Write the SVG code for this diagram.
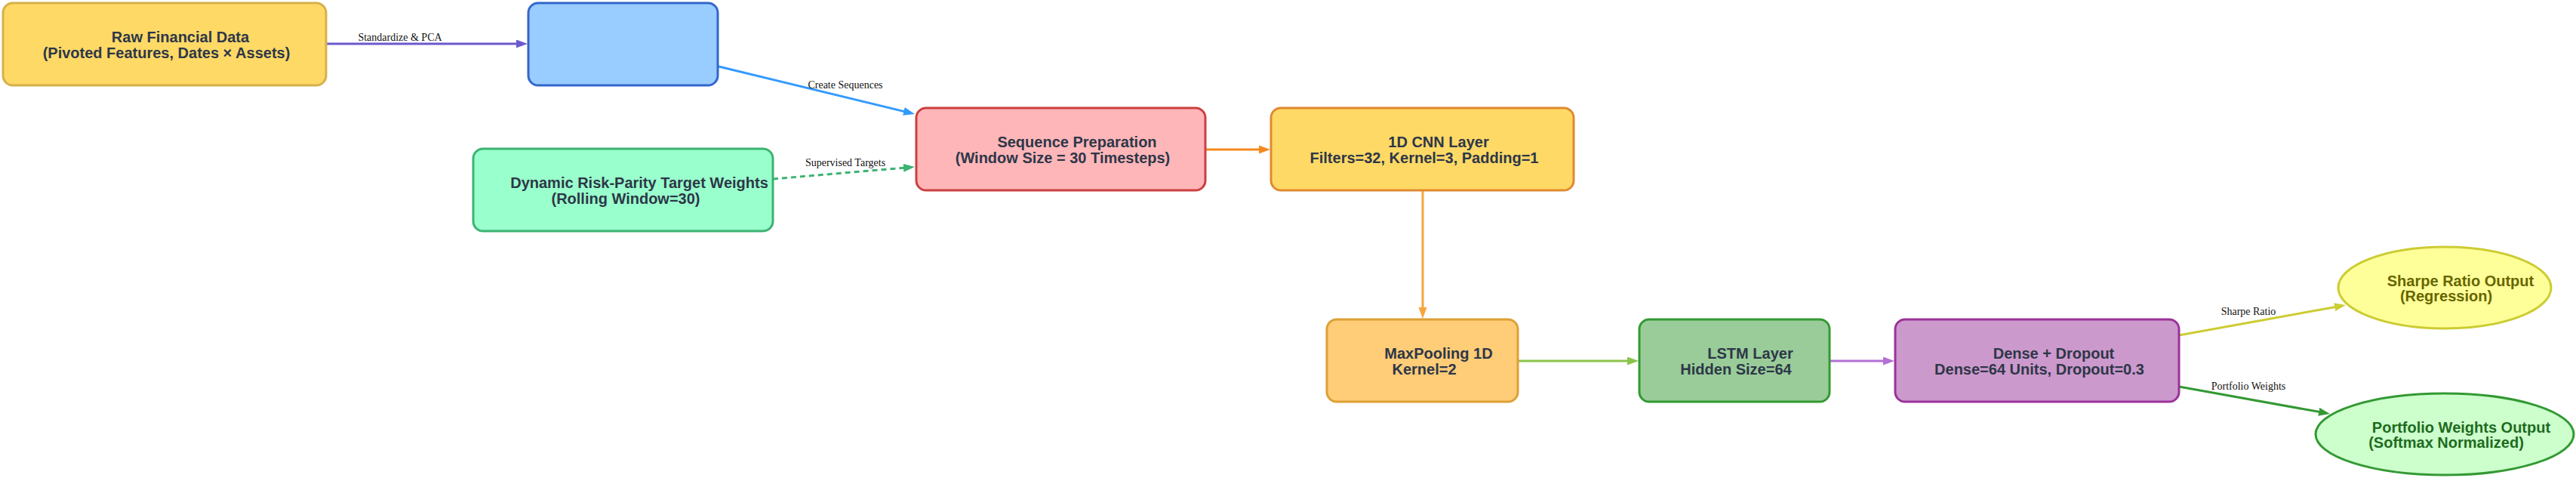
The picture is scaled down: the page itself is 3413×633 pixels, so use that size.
<svg xmlns="http://www.w3.org/2000/svg" width="3413" height="633" viewBox="0 0 3413 633">
<style>
.box{stroke-width:3}
.t{font-family:"Liberation Sans",Arial,sans-serif;font-weight:bold;font-size:20px;fill:#2d3748;text-anchor:middle}
.el{font-family:"Liberation Serif","Times New Roman",serif;font-size:14px;fill:#111;text-anchor:middle}
.e{fill:none;stroke-width:3}
</style>
<defs>
<marker id="m1" markerUnits="userSpaceOnUse" markerWidth="16" markerHeight="12" refX="7" refY="5.5" orient="auto"><path d="M0,0 L15,5.5 L0,11 z" fill="#6a5acd"/></marker>
<marker id="m2" markerUnits="userSpaceOnUse" markerWidth="16" markerHeight="12" refX="7" refY="5.5" orient="auto"><path d="M0,0 L15,5.5 L0,11 z" fill="#3399ff"/></marker>
<marker id="m3" markerUnits="userSpaceOnUse" markerWidth="16" markerHeight="12" refX="7" refY="5.5" orient="auto"><path d="M0,0 L15,5.5 L0,11 z" fill="#3cb371"/></marker>
<marker id="m4" markerUnits="userSpaceOnUse" markerWidth="16" markerHeight="12" refX="7" refY="5.5" orient="auto"><path d="M0,0 L15,5.5 L0,11 z" fill="#f5891f"/></marker>
<marker id="m5" markerUnits="userSpaceOnUse" markerWidth="16" markerHeight="12" refX="7" refY="5.5" orient="auto"><path d="M0,0 L15,5.5 L0,11 z" fill="#f7a53a"/></marker>
<marker id="m6" markerUnits="userSpaceOnUse" markerWidth="16" markerHeight="12" refX="7" refY="5.5" orient="auto"><path d="M0,0 L15,5.5 L0,11 z" fill="#8bc34a"/></marker>
<marker id="m7" markerUnits="userSpaceOnUse" markerWidth="16" markerHeight="12" refX="7" refY="5.5" orient="auto"><path d="M0,0 L15,5.5 L0,11 z" fill="#b36fd6"/></marker>
<marker id="m8" markerUnits="userSpaceOnUse" markerWidth="16" markerHeight="12" refX="7" refY="5.5" orient="auto"><path d="M0,0 L15,5.5 L0,11 z" fill="#cccc33"/></marker>
<marker id="m9" markerUnits="userSpaceOnUse" markerWidth="16" markerHeight="12" refX="7" refY="5.5" orient="auto"><path d="M0,0 L15,5.5 L0,11 z" fill="#339933"/></marker>
</defs>
<rect width="3413" height="633" fill="#ffffff"/>
<g id="connectors">
<path class="e" d="M432,58 L691,58" stroke="#6a5acd" marker-end="url(#m1)"/>
<path class="e" d="M952,88 L1204.2,149.1" stroke="#3399ff" marker-end="url(#m2)"/>
<path class="e" d="M1024,237 L1204,221.7" stroke="#3cb371" stroke-dasharray="7,5" marker-end="url(#m3)"/>
<path class="e" d="M1597,198 L1675,198" stroke="#f5891f" marker-end="url(#m4)"/>
<path class="e" d="M1885,252 L1885,414" stroke="#f7a53a" marker-end="url(#m5)"/>
<path class="e" d="M2011,478 L2163,478" stroke="#8bc34a" marker-end="url(#m6)"/>
<path class="e" d="M2424,478 L2502,478" stroke="#b36fd6" marker-end="url(#m7)"/>
<path class="e" d="M2887,444 L3100.1,405.4" stroke="#cccc33" marker-end="url(#m8)"/>
<path class="e" d="M2887,512 L3079.1,546.6" stroke="#339933" marker-end="url(#m9)"/>
<text class="el" x="530" y="54">Standardize &amp; PCA</text>
<text class="el" x="1120" y="117">Create Sequences</text>
<text class="el" x="1120" y="220">Supervised Targets</text>
<text class="el" x="2979" y="417">Sharpe Ratio</text>
<text class="el" x="2979" y="516">Portfolio Weights</text>
</g>
<g id="raw">
<rect class="box" x="4" y="4" width="428" height="109" rx="13" fill="#ffd966" stroke="#d6b04a"/>
<text class="t" x="239" y="56">Raw Financial Data</text>
<text class="t" x="220.5" y="77">(Pivoted Features, Dates × Assets)</text>
</g>
<g id="preprocess">
<rect class="box" x="700" y="4" width="251" height="109" rx="13" fill="#99ccff" stroke="#3366cc"/>
</g>
<g id="targets">
<rect class="box" x="627" y="197" width="397" height="109" rx="13" fill="#99ffcc" stroke="#3cb371"/>
<text class="t" x="847" y="249">Dynamic Risk-Parity Target Weights</text>
<text class="t" x="829" y="270">(Rolling Window=30)</text>
</g>
<g id="seqprep">
<rect class="box" x="1214" y="143" width="383" height="109" rx="13" fill="#ffb6b9" stroke="#cc3f3f"/>
<text class="t" x="1427" y="195">Sequence Preparation</text>
<text class="t" x="1408" y="216">(Window Size = 30 Timesteps)</text>
</g>
<g id="cnn">
<rect class="box" x="1684" y="143" width="401" height="109" rx="13" fill="#ffd966" stroke="#e08a2e"/>
<text class="t" x="1906" y="195">1D CNN Layer</text>
<text class="t" x="1887" y="216">Filters=32, Kernel=3, Padding=1</text>
</g>
<g id="maxpool">
<rect class="box" x="1758" y="423" width="253" height="109" rx="13" fill="#ffcc77" stroke="#dda035"/>
<text class="t" x="1906" y="475">MaxPooling 1D</text>
<text class="t" x="1887" y="496">Kernel=2</text>
</g>
<g id="lstm">
<rect class="box" x="2172" y="423" width="252" height="109" rx="13" fill="#99cc99" stroke="#339933"/>
<text class="t" x="2319" y="475">LSTM Layer</text>
<text class="t" x="2300" y="496">Hidden Size=64</text>
</g>
<g id="dense">
<rect class="box" x="2511" y="423" width="376" height="109" rx="13" fill="#cc99cc" stroke="#993399"/>
<text class="t" x="2721" y="475">Dense + Dropout</text>
<text class="t" x="2702" y="496">Dense=64 Units, Dropout=0.3</text>
</g>
<g id="sharpe">
<ellipse class="box" cx="3239" cy="381" rx="141" ry="54" fill="#ffff99" stroke="#cccc33"/>
<text class="t" x="3260" y="379" style="fill:#666600">Sharpe Ratio Output</text>
<text class="t" x="3241" y="399" style="fill:#666600">(Regression)</text>
</g>
<g id="portfolio">
<ellipse class="box" cx="3239" cy="575" rx="171" ry="54" fill="#ccffcc" stroke="#339933"/>
<text class="t" x="3261" y="573" style="fill:#1e6b1e">Portfolio Weights Output</text>
<text class="t" x="3241" y="593" style="fill:#1e6b1e">(Softmax Normalized)</text>
</g>
</svg>
